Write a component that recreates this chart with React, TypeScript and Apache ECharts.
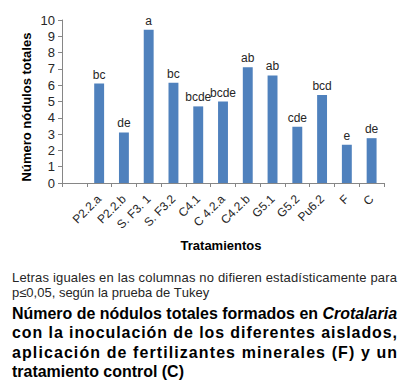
import React, { useEffect, useRef } from "react";
import * as echarts from "echarts";

const categories = ["", "P2.2.a", "P2.2.b", "S. F3. 1", "S. F3.2", "C4.1", "C 4.2.a", "C4.2.b", "G5.1", "G5.2", "Pu6.2", "F", "C"];
const values = [null, 6.1, 3.1, 9.4, 6.15, 4.7, 5.0, 7.1, 6.6, 3.45, 5.4, 2.35, 2.75];
const letters = ["", "bc", "de", "a", "bc", "bcde", "bcde", "ab", "ab", "cde", "bcd", "e", "de"];
const yTicks = [0, 10, 1];
const yTitle = "Número nódulos totales";
const xTitle = "Tratamientos";
const noteLines = [
  "Letras iguales en las columnas no difieren estadísticamente para",
  "p≤0,05, según la prueba de Tukey",
];
const captionLines = [
  "Número de nódulos totales formados en *Crotalaria",
  "con la inoculación de los diferentes aislados,",
  "aplicación de fertilizantes minerales (F) y un",
  "tratamiento control (C)",
];

const FONT = "'Liberation Sans', Arial, sans-serif";

const ctx = document.createElement("canvas").getContext("2d")!;
function measure(text: string, font: string): number {
  ctx.font = font;
  return ctx.measureText(text).width;
}

type Seg = { text: string; italic: boolean };
function parseLine(line: string): Seg[] {
  return line.split(" ").map((w, i, arr) => {
    const italic = w.startsWith("*");
    const t = italic ? w.slice(1) : w;
    return { text: i < arr.length - 1 ? t + " " : t, italic };
  });
}

function fontOf(italic: boolean, weight: string, size: number) {
  return `${italic ? "italic " : ""}${weight} ${size}px ${FONT}`;
}

function naturalWidth(line: string, weight: string, size: number) {
  return parseLine(line).reduce((s, seg) => s + measure(seg.text, fontOf(seg.italic, weight, size)), 0);
}

function distributedLine(
  line: string,
  x0: number,
  x1: number,
  y: number,
  size: number,
  weight: string,
  color: string,
  justify: boolean
): any[] {
  const chars: { ch: string; italic: boolean; w: number }[] = [];
  parseLine(line).forEach((seg) => {
    for (const ch of seg.text) {
      chars.push({ ch, italic: seg.italic, w: measure(ch, fontOf(seg.italic, weight, size)) });
    }
  });
  const total = chars.reduce((s, c) => s + c.w, 0);
  const extra = justify && chars.length > 1 ? Math.max(0, (x1 - x0 - total) / (chars.length - 1)) : 0;
  let x = x0;
  const out: any[] = [];
  chars.forEach((c) => {
    if (c.ch !== " ") {
      out.push({
        type: "text",
        x,
        y,
        style: {
          text: c.ch,
          font: fontOf(c.italic, weight, size),
          fill: color,
          verticalAlign: "middle",
          align: "left",
        },
      });
    }
    x += c.w + extra;
  });
  return out;
}

export default function App() {
  const ref = useRef<HTMLDivElement>(null);
  useEffect(() => {
    const chart = echarts.init(ref.current!, undefined, { renderer: "svg" });
    const X0 = 12;
    const X1 = 397;
    const W = X1 - X0;
    const noteSize = Math.min(13, (10 * W) / naturalWidth(noteLines[0], "normal", 10));
    const capSize = Math.min(16, (10 * W) / naturalWidth(captionLines[0], "bold", 10));
    const graphics: any[] = [];
    const noteY = [277, 292];
    noteLines.forEach((l, i) => {
      graphics.push(...distributedLine(l, X0, X1, noteY[i], noteSize, "normal", "#262626", i < noteLines.length - 1));
    });
    const capY = [313, 332, 352, 371];
    captionLines.forEach((l, i) => {
      graphics.push(...distributedLine(l, X0, X1, capY[i], capSize, "bold", "#000000", i < captionLines.length - 1));
    });
    graphics.push({
      type: "text",
      x: 26,
      y: 107,
      rotation: Math.PI / 2,
      style: {
        text: yTitle,
        font: `bold 13px ${FONT}`,
        fill: "#000",
        align: "center",
        verticalAlign: "middle",
      },
    });
    graphics.push({
      type: "text",
      x: 221,
      y: 245,
      style: {
        text: xTitle,
        font: `bold 13px ${FONT}`,
        fill: "#000",
        align: "center",
        verticalAlign: "middle",
      },
    });

    chart.setOption({
      animation: false,
      grid: { left: 62, right: 25, top: 20, bottom: 207, containLabel: false },
      xAxis: {
        type: "category",
        data: categories,
        axisLine: { lineStyle: { color: "#868686", width: 1 } },
        axisTick: { show: true, alignWithLabel: false, length: 4, lineStyle: { color: "#868686" } },
        axisLabel: {
          interval: 0,
          rotate: 45,
          fontSize: 12,
          fontFamily: FONT,
          color: "#262626",
          margin: 14,
        },
      },
      yAxis: {
        type: "value",
        min: yTicks[0],
        max: yTicks[1],
        interval: yTicks[2],
        splitLine: { show: false },
        axisLine: { show: true, lineStyle: { color: "#868686", width: 1 } },
        axisTick: { show: true, length: 4, lineStyle: { color: "#868686" } },
        axisLabel: { fontSize: 13, fontFamily: FONT, color: "#262626", margin: 7 },
      },
      series: [
        {
          type: "bar",
          data: values,
          barWidth: "40%",
          itemStyle: { color: "#4F81BD" },
          label: {
            show: true,
            position: "top",
            distance: 3,
            fontSize: 12,
            fontFamily: FONT,
            color: "#262626",
            formatter: (p: any) => letters[p.dataIndex],
          },
        },
      ],
      graphic: graphics,
    });
    return () => chart.dispose();
  }, []);
  return (
    <div
      ref={ref}
      style={{ position: "fixed", left: 0, top: 0, width: 409, height: 390, background: "#fff" }}
    />
  );
}
